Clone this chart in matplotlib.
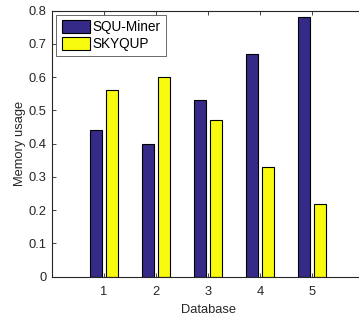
import matplotlib
matplotlib.use("Agg")
import matplotlib.pyplot as plt
import numpy as np

plt.rcParams['font.family'] = ['Liberation Sans', 'DejaVu Sans']

databases = [1, 2, 3, 4, 5]
squ_miner = [0.44, 0.40, 0.53, 0.67, 0.78]
skyqup = [0.56, 0.60, 0.47, 0.33, 0.22]
yticks = [0, 0.1, 0.2, 0.3, 0.4, 0.5, 0.6, 0.7, 0.8]
ytick_labels = ['0', '0.1', '0.2', '0.3', '0.4', '0.5', '0.6', '0.7', '0.8']

fig = plt.figure(figsize=(3.59, 3.2), dpi=100)
ax = fig.add_axes([52/359, 1 - 276.7/320, 312/359, 266/320])

x = np.array(databases, dtype=float)
w = 0.23
off = 0.145
ax.bar(x - off, squ_miner, w, color='#352A87', edgecolor='black', linewidth=0.8, label='SQU-Miner', zorder=2)
ax.bar(x + off, skyqup, w, color='#F9FB0E', edgecolor='black', linewidth=0.8, label='SKYQUP', zorder=2)

ax.set_xlim(0, 6)
ax.set_ylim(0, 0.8)
ax.set_xticks(databases)
ax.set_yticks(yticks)
ax.set_yticklabels(ytick_labels)
ax.tick_params(direction='in', length=3, width=0.6, labelsize=9.3, colors='#262626', top=True, right=True, pad=4)
ax.tick_params(axis='x', pad=7)
for s in ax.spines.values():
    s.set_color('#262626')
    s.set_linewidth(0.8)
ax.set_xlabel('Database', fontsize=9.3, color='#262626', labelpad=4)
ax.set_ylabel('Memory usage', fontsize=9.3, color='#262626', labelpad=2)

leg = ax.legend(loc='upper left', fontsize=9.8, frameon=True, fancybox=False,
                edgecolor='#262626', handlelength=2.1, handleheight=1.06,
                borderaxespad=0.3, handletextpad=0.15, labelspacing=0.2, borderpad=0.4)
leg.get_frame().set_linewidth(0.6)

fig.savefig('out.png', dpi=100)
